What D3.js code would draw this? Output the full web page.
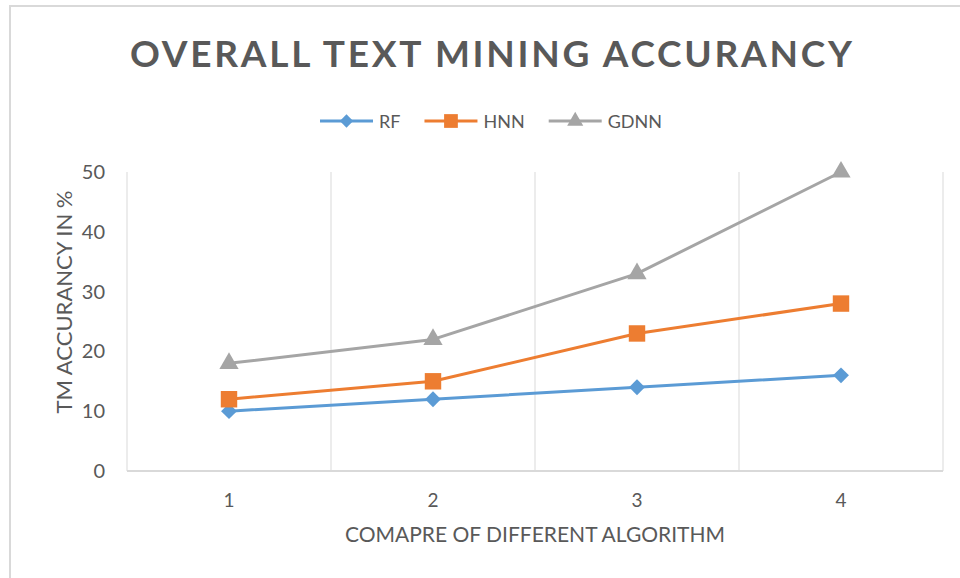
<!DOCTYPE html>
<html>
<head>
<meta charset="utf-8">
<script src="https://d3js.org/d3.v7.min.js"></script>
<style>
  body { margin: 0; background: #fff; }
  text { font-family: Lato, "Open Sans", sans-serif; fill: #595959; }
</style>
</head>
<body>
<div id="chart"></div>
<script>
// chart data
var categories = ["1", "2", "3", "4"];
var rfValues = [10, 12, 14, 16];
var hnnValues = [12, 15, 23, 28];
var gdnnValues = [18, 22, 33, 50];
var yTicks = [0, 10, 20, 30, 40, 50];
var seriesNames = ["RF", "HNN", "GDNN"];

var colors = {RF: "#5b9bd5", HNN: "#ed7d31", GDNN: "#a5a5a5"};
var symbols = {RF: d3.symbolDiamond2, HNN: d3.symbolSquare, GDNN: d3.symbolTriangle};
var symSize = {RF: 160, HNN: 270, GDNN: 160};

var series = [
  {name: "RF", values: rfValues},
  {name: "HNN", values: hnnValues},
  {name: "GDNN", values: gdnnValues}
];

var W = 960, H = 578;
var plot = {left: 127, right: 943, top: 172, bottom: 471};

var svg = d3.select("#chart").append("svg")
    .attr("width", W)
    .attr("height", H);

// outer frame
svg.append("rect")
    .attr("x", 10).attr("y", 6)
    .attr("width", W).attr("height", H)
    .attr("fill", "#fff")
    .attr("stroke", "#d9d9d9")
    .attr("stroke-width", 2);

// scales
var x = d3.scaleBand().domain(categories).range([plot.left, plot.right]);
var y = d3.scaleLinear().domain([0, 50]).range([plot.bottom, plot.top]);

// vertical gridlines at category boundaries
var bounds = categories.map(function(c) { return x(c); }).concat([plot.right]);
svg.selectAll(".vgrid")
    .data(bounds)
    .enter().append("line")
    .attr("class", "vgrid")
    .attr("x1", function(d) { return d; })
    .attr("x2", function(d) { return d; })
    .attr("y1", plot.top)
    .attr("y2", plot.bottom)
    .attr("stroke", "#d9d9d9")
    .attr("stroke-width", 1);

// bottom axis line
svg.append("line")
    .attr("x1", plot.left).attr("x2", plot.right)
    .attr("y1", plot.bottom).attr("y2", plot.bottom)
    .attr("stroke", "#d9d9d9")
    .attr("stroke-width", 2);

// y axis labels
var yAxis = svg.append("g")
    .attr("transform", "translate(" + (plot.left - 22) + ",0)")
    .call(d3.axisLeft(y).tickValues(yTicks).tickSize(0).tickPadding(0));
yAxis.select(".domain").remove();
yAxis.selectAll("text")
    .style("font-family", "Lato, sans-serif")
    .style("font-size", "20px")
    .attr("fill", "#595959");

// x axis labels
var xAxis = svg.append("g")
    .attr("transform", "translate(0," + (plot.bottom + 22) + ")")
    .call(d3.axisBottom(x).tickSize(0).tickPadding(0));
xAxis.select(".domain").remove();
xAxis.selectAll("text")
    .style("font-family", "Lato, sans-serif")
    .style("font-size", "19px")
    .attr("fill", "#595959");

// lines
var line = d3.line()
    .x(function(d, i) { return x(categories[i]) + x.bandwidth() / 2; })
    .y(function(d) { return y(d); });

series.forEach(function(s) {
  svg.append("path")
      .datum(s.values)
      .attr("fill", "none")
      .attr("stroke", colors[s.name])
      .attr("stroke-width", 3)
      .attr("stroke-linejoin", "round")
      .attr("d", line);

  svg.selectAll(".pt-" + s.name)
      .data(s.values)
      .enter().append("path")
      .attr("class", "pt-" + s.name)
      .attr("transform", function(d, i) {
        return "translate(" + (x(categories[i]) + x.bandwidth() / 2) + "," + y(d) + ")";
      })
      .attr("d", d3.symbol().type(symbols[s.name]).size(symSize[s.name]))
      .attr("fill", colors[s.name]);
});

// title
svg.append("text")
    .attr("x", 491)
    .attr("y", 67)
    .attr("text-anchor", "middle")
    .attr("textLength", 722)
    .attr("lengthAdjust", "spacing")
    .style("font-size", "37px")
    .style("font-weight", "bold")
    .text("OVERALL TEXT MINING ACCURANCY");

// legend
var legend = svg.append("g");
var lx = 320;
seriesNames.forEach(function(name) {
  var g = legend.append("g").attr("transform", "translate(" + lx + ",121)");
  g.append("line")
      .attr("x1", 0).attr("x2", 53)
      .attr("stroke", colors[name])
      .attr("stroke-width", 3);
  g.append("path")
      .attr("transform", "translate(26.5,0)")
      .attr("d", d3.symbol().type(symbols[name]).size(symSize[name] * 0.7))
      .attr("fill", colors[name]);
  var t = g.append("text")
      .attr("x", 59)
      .attr("y", 7)
      .style("font-size", "18px")
      .text(name);
  lx += 59 + t.node().getComputedTextLength() + 24;
});

// axis titles
svg.append("text")
    .attr("x", 535)
    .attr("y", 542)
    .attr("text-anchor", "middle")
    .style("font-size", "21px")
    .text("COMAPRE OF DIFFERENT ALGORITHM");

svg.append("text")
    .attr("transform", "translate(72,302) rotate(-90)")
    .attr("text-anchor", "middle")
    .style("font-size", "22px")
    .text("TM ACCURANCY IN %");
</script>
</body>
</html>
